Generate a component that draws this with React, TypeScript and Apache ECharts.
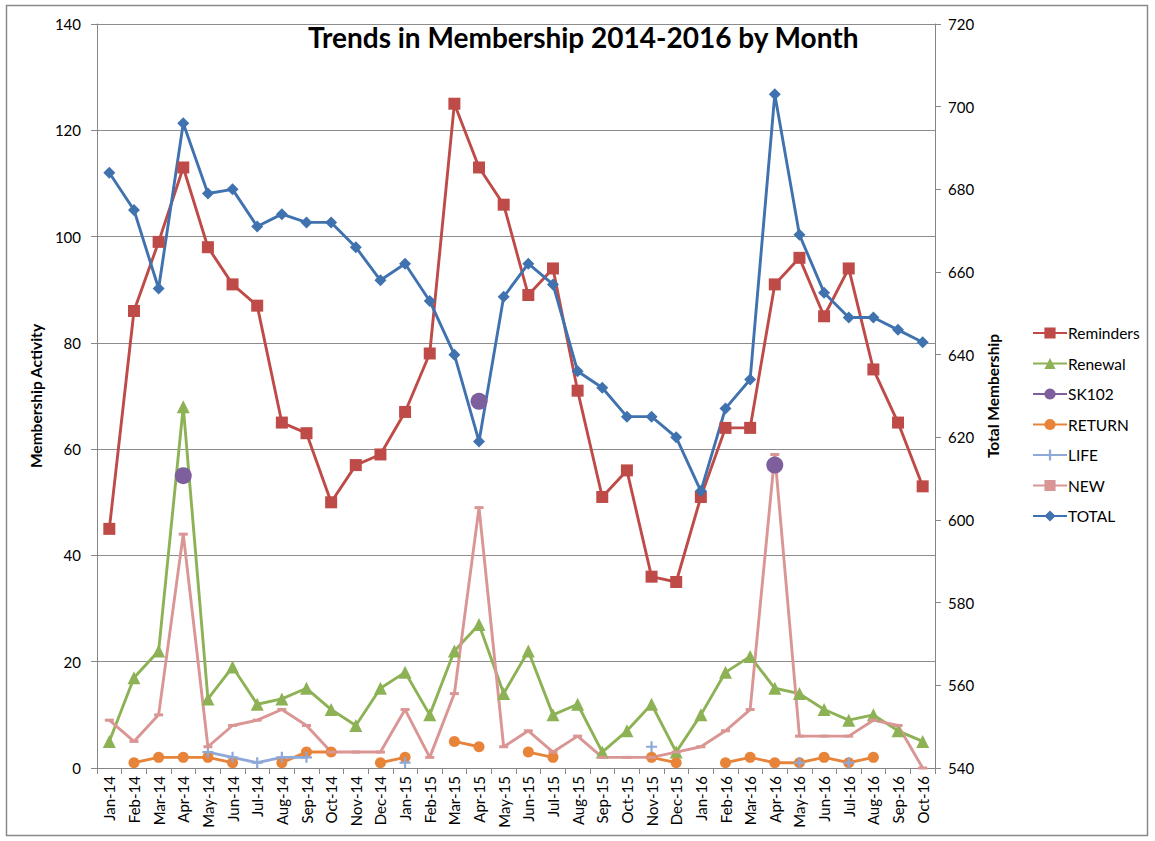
import React, { useEffect, useRef } from "react";
import * as echarts from "echarts";

const months = [
  "Jan-14", "Feb-14", "Mar-14", "Apr-14", "May-14", "Jun-14", "Jul-14", "Aug-14", "Sep-14", "Oct-14", "Nov-14", "Dec-14",
  "Jan-15", "Feb-15", "Mar-15", "Apr-15", "May-15", "Jun-15", "Jul-15", "Aug-15", "Sep-15", "Oct-15", "Nov-15", "Dec-15",
  "Jan-16", "Feb-16", "Mar-16", "Apr-16", "May-16", "Jun-16", "Jul-16", "Aug-16", "Sep-16", "Oct-16",
];

const reminders = [
  45, 86, 99, 113, 98, 91, 87, 65, 63, 50, 57, 59,
  67, 78, 125, 113, 106, 89, 94, 71, 51, 56, 36, 35,
  51, 64, 64, 91, 96, 85, 94, 75, 65, 53,
];

const renewal = [
  5, 17, 22, 68, 13, 19, 12, 13, 15, 11, 8, 15,
  18, 10, 22, 27, 14, 22, 10, 12, 3, 7, 12, 3,
  10, 18, 21, 15, 14, 11, 9, 10, 7, 5,
];

const sk102 = [
  null, null, null, 55, null, null, null, null, null, null, null, null,
  null, null, null, 69, null, null, null, null, null, null, null, null,
  null, null, null, 57, null, null, null, null, null, null,
];

const returns = [
  null, 1, 2, 2, 2, 1, null, 1, 3, 3, null, 1,
  2, null, 5, 4, null, 3, 2, null, null, null, 2, 1,
  null, 1, 2, 1, 1, 2, 1, 2, null, null,
];

const life = [
  null, null, null, null, 3, 2, 1, 2, 2, null, null, null,
  1, null, null, null, null, null, null, null, null, null, 4, null,
  null, null, null, null, 1, null, 1, null, null, null,
];

const newMembers = [
  9, 5, 10, 44, 4, 8, 9, 11, 8, 3, 3, 3,
  11, 2, 14, 49, 4, 7, 3, 6, 2, 2, 2, 3,
  4, 7, 11, 59, 6, 6, 6, 9, 8, 0,
];

const total = [
  684, 675, 656, 696, 679, 680, 671, 674, 672, 672, 666, 658,
  662, 653, 640, 619, 654, 662, 657, 636, 632, 625, 625, 620,
  607, 627, 634, 703, 669, 655, 649, 649, 646, 643,
];

const leftTicks = { min: 0, max: 140, interval: 20 };
const rightTicks = { min: 540, max: 720, interval: 20 };

const FONT = "Lato, 'Open Sans', sans-serif";
const PLUS = "path://M4,0 H6 V10 H4 Z M0,4 H10 V6 H0 Z";

export default function App() {
  const ref = useRef<HTMLDivElement>(null);
  useEffect(() => {
    document.body.style.margin = "0";
    const chart = echarts.init(ref.current!, null, { renderer: "svg" });
    const lineSeries = (name: string, data: any[], color: string, extra: any) => ({
      name,
      type: "line",
      data,
      yAxisIndex: 0,
      connectNulls: false,
      showAllSymbol: true,
      itemStyle: { color },
      lineStyle: { color, width: 2.9 },
      emphasis: { disabled: true },
      ...extra,
    });
    chart.setOption({
      animation: false,
      backgroundColor: "#ffffff",
      textStyle: { fontFamily: FONT },
      title: {
        text: "Trends in Membership 2014-2016 by Month",
        left: 303,
        top: 18,
        textStyle: { fontFamily: FONT, fontWeight: "bold", fontSize: 28, color: "#000" },
      },
      graphic: [
        {
          type: "rect",
          shape: { x: 6.5, y: 5.5, width: 1141, height: 830 },
          style: { fill: "none", stroke: "#8a8a8a", lineWidth: 1.5 },
          silent: true,
        },
      ],
      legend: {
        orient: "vertical",
        left: 1027,
        top: 320,
        itemWidth: 34,
        itemHeight: 14,
        itemGap: 14.5,
        textStyle: { fontFamily: FONT, fontSize: 15.5, color: "#000", padding: [0, 0, 0, -4] },
        data: ["Reminders", "Renewal", "SK102", "RETURN", "LIFE", "NEW", "TOTAL"],
      },
      grid: { left: 97, right: 220, top: 24, bottom: 73, containLabel: false },
      xAxis: {
        type: "category",
        data: months,
        boundaryGap: true,
        axisLine: { lineStyle: { color: "#868686", width: 1 } },
        axisTick: { show: true, length: 6, alignWithLabel: false, lineStyle: { color: "#868686" } },
        axisLabel: { rotate: 90, fontSize: 15, color: "#000", margin: 8, interval: 0, fontFamily: FONT },
        splitLine: { show: false },
      },
      yAxis: [
        {
          type: "value",
          ...leftTicks,
          name: "Membership Activity",
          nameLocation: "middle",
          nameGap: 50,
          nameRotate: 90,
          nameTextStyle: { fontFamily: FONT, fontWeight: "bold", fontSize: 15.5, color: "#000" },
          axisLine: { show: true, lineStyle: { color: "#868686" } },
          axisTick: { show: true, length: 6, lineStyle: { color: "#868686" } },
          axisLabel: { fontSize: 15, color: "#000", margin: 16, fontFamily: FONT },
          splitLine: { show: true, lineStyle: { color: "#8c8c8c", width: 1 } },
        },
        {
          type: "value",
          ...rightTicks,
          position: "right",
          name: "Total Membership",
          nameLocation: "middle",
          nameGap: 48,
          nameRotate: 90,
          nameTextStyle: { fontFamily: FONT, fontWeight: "bold", fontSize: 15.5, color: "#000" },
          axisLine: { show: true, lineStyle: { color: "#868686" } },
          axisTick: { show: true, length: 6, lineStyle: { color: "#868686" } },
          axisLabel: { fontSize: 15, color: "#000", margin: 13, fontFamily: FONT },
          splitLine: { show: false },
        },
      ],
      series: [
        lineSeries("Reminders", reminders, "#BE4B48", { symbol: "rect", symbolSize: 12 }),
        lineSeries("Renewal", renewal, "#8DB255", { symbol: "triangle", symbolSize: 13 }),
        lineSeries("SK102", sk102, "#7D5F9E", { symbol: "circle", symbolSize: 17 }),
        lineSeries("RETURN", returns, "#E8843A", { symbol: "circle", symbolSize: 11 }),
        lineSeries("LIFE", life, "#8EA8D8", { symbol: PLUS, symbolSize: 11 }),
        lineSeries("NEW", newMembers, "#D99694", { symbol: "rect", symbolSize: [9, 3] }),
        lineSeries("TOTAL", total, "#3F72AF", { symbol: "diamond", symbolSize: 12, yAxisIndex: 1 }),
      ],
    });
    return () => chart.dispose();
  }, []);
  return <div ref={ref} style={{ width: 1155, height: 841 }} />;
}
